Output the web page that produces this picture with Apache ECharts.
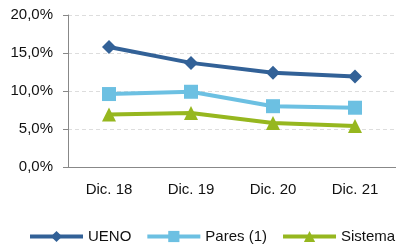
<!DOCTYPE html>
<html>
<head>
<meta charset="utf-8">
<script src="https://cdn.jsdelivr.net/npm/echarts@6/dist/echarts.min.js"></script>
<style>
  html, body { margin: 0; padding: 0; background: #fff; }
  #chart { width: 396px; height: 246px; }
</style>
</head>
<body>
<div id="chart"></div>
<script>
const categories = ['Dic. 18', 'Dic. 19', 'Dic. 20', 'Dic. 21']
const ueno = [15.8, 13.7, 12.4, 11.9]
const pares = [9.6, 9.9, 8.0, 7.8]
const sistema = [6.9, 7.1, 5.8, 5.4]

const chart = echarts.init(document.getElementById('chart'))
const font = '"Liberation Sans", Arial, sans-serif'

function line(name, data, color, symbol, size) {
  return {
    name, type: 'line', data,
    symbol, symbolSize: size,
    lineStyle: { width: 4, color },
    itemStyle: { color },
    animation: false,
  }
}

chart.setOption({
  textStyle: { fontFamily: font },
  grid: { left: 68, right: 0, top: 15, bottom: 79 },
  legend: {
    bottom: 2, left: 28, width: 368, padding: 0,
    itemWidth: 53, itemHeight: 14, itemGap: 14,
    lineStyle: { width: 4 },
    textStyle: { fontSize: 15, color: '#111', fontFamily: font },
    data: ['UENO', 'Pares (1)', 'Sistema'],
  },
  xAxis: {
    type: 'category', data: categories,
    axisLine: { lineStyle: { color: '#888' } },
    axisTick: { lineStyle: { color: '#888' }, length: 5 },
    axisLabel: { fontSize: 15, color: '#111', margin: 15, fontFamily: font },
  },
  yAxis: {
    type: 'value', min: 0, max: 20, interval: 5,
    axisLine: { show: true, lineStyle: { color: '#888' } },
    axisTick: { show: true, lineStyle: { color: '#888' }, length: 5 },
    axisLabel: {
      fontSize: 15, color: '#111', margin: 15, fontFamily: font,
      formatter: v => v.toFixed(1).replace('.', ',') + '%',
    },
    splitLine: { lineStyle: { color: '#ddd', type: [4, 3] } },
  },
  series: [
    line('UENO', ueno, '#326197', 'diamond', 14),
    line('Pares (1)', pares, '#6cc0e2', 'rect', 14),
    line('Sistema', sistema, '#96b71f', 'triangle', 14),
  ],
})
</script>
</body>
</html>
